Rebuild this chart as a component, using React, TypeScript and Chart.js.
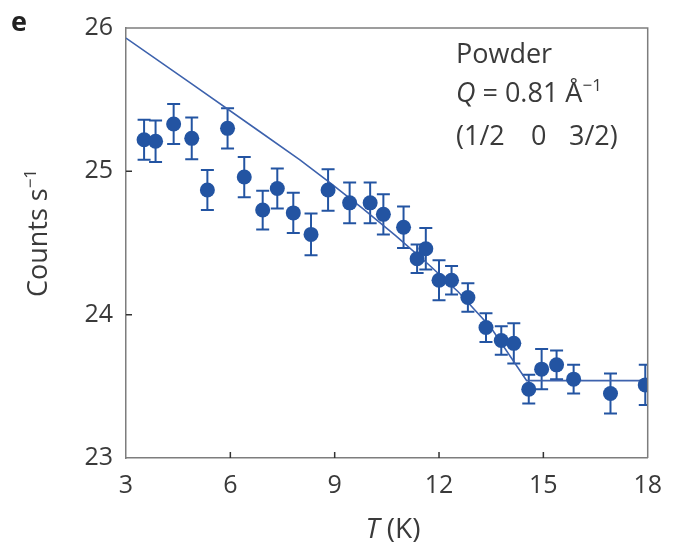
import { useEffect, useRef } from "react";
import { Chart, registerables } from "chart.js";

Chart.register(...registerables);

// Measured data (temperature in K, counts per second)
const TEMPERATURES = [3.52, 3.85, 4.37, 4.89, 5.34, 5.92, 6.4, 6.93, 7.35, 7.81, 8.32, 8.81, 9.43, 10.02, 10.4, 10.98, 11.37, 11.62, 12.0, 12.36, 12.83, 13.35, 13.79, 14.15, 14.58, 14.95, 15.38, 15.87, 16.93, 17.93];
const COUNTS = [25.22, 25.21, 25.33, 25.23, 24.87, 25.3, 24.96, 24.73, 24.88, 24.71, 24.56, 24.87, 24.78, 24.78, 24.7, 24.61, 24.39, 24.46, 24.24, 24.24, 24.12, 23.91, 23.82, 23.8, 23.48, 23.62, 23.65, 23.55, 23.45, 23.51];
const ERRORS = [0.14, 0.145, 0.14, 0.145, 0.14, 0.14, 0.14, 0.135, 0.14, 0.14, 0.145, 0.145, 0.142, 0.142, 0.14, 0.145, 0.1, 0.145, 0.14, 0.1, 0.1, 0.1, 0.1, 0.14, 0.1, 0.14, 0.1, 0.1, 0.14, 0.14];

// Fitted curve
const FIT_T = [3, 4.89, 6.77, 8.0, 8.87, 9.81, 10.76, 11.7, 12.55, 13.49, 14.52, 18];
const FIT_COUNTS = [25.93, 25.61, 25.29, 25.08, 24.92, 24.74, 24.55, 24.35, 24.16, 23.91, 23.54, 23.54];

const X_TICKS = [3, 6, 9, 12, 15, 18];
const Y_TICKS = [23, 24, 25, 26];

const PANEL_LABEL = "e";
const LEGEND_LINE1 = "Powder";
const LEGEND_HKL = ["(1/2", "0", "3/2)"];
const X_TITLE_ITALIC = "T";
const X_TITLE_REST = " (K)";
const Y_TITLE = "Counts s";
const Y_TITLE_SUP = "−1";

const FONT = "'Open Sans', 'Noto Sans', sans-serif";
const TEXT_COLOR = "#3a3a3a";
const DOT_COLOR = "#2354a2";
const LINE_COLOR = "#3d62ad";
const AXIS_COLOR = "#7d7d7d";

type Seg = { text: string; font: string; dy?: number };

function drawSegs(ctx: CanvasRenderingContext2D, segs: Seg[], x: number, y: number, align: "left" | "center" = "left") {
  let total = 0;
  for (const s of segs) {
    ctx.font = s.font;
    total += ctx.measureText(s.text).width;
  }
  let cx = align === "center" ? x - total / 2 : x;
  ctx.textAlign = "left";
  ctx.textBaseline = "alphabetic";
  for (const s of segs) {
    ctx.font = s.font;
    ctx.fillText(s.text, cx, y + (s.dy || 0));
    cx += ctx.measureText(s.text).width;
  }
}

const overlay = {
  id: "overlay",
  beforeDatasetsDraw(chart: any) {
    const { ctx, chartArea: a } = chart;
    const xs = chart.scales.x;
    const ys = chart.scales.y;
    ctx.save();
    ctx.beginPath();
    ctx.rect(a.left, a.top, a.right - a.left, a.bottom - a.top);
    ctx.clip();
    ctx.strokeStyle = DOT_COLOR;
    ctx.lineWidth = 2;
    const cap = 6.5;
    for (let i = 0; i < TEMPERATURES.length; i++) {
      const x = xs.getPixelForValue(TEMPERATURES[i]);
      const y1 = ys.getPixelForValue(COUNTS[i] + ERRORS[i]);
      const y2 = ys.getPixelForValue(COUNTS[i] - ERRORS[i]);
      ctx.beginPath();
      ctx.moveTo(x, y1);
      ctx.lineTo(x, y2);
      ctx.moveTo(x - cap, y1);
      ctx.lineTo(x + cap, y1);
      ctx.moveTo(x - cap, y2);
      ctx.lineTo(x + cap, y2);
      ctx.stroke();
    }
    ctx.restore();
  },
  afterDraw(chart: any) {
    const { ctx, chartArea: a } = chart;
    const xs = chart.scales.x;
    const ys = chart.scales.y;
    ctx.save();
    // frame top and right
    ctx.strokeStyle = AXIS_COLOR;
    ctx.lineWidth = 1.5;
    ctx.beginPath();
    ctx.moveTo(a.left, a.top);
    ctx.lineTo(a.right, a.top);
    ctx.lineTo(a.right, a.bottom);
    ctx.stroke();
    // inward ticks
    ctx.strokeStyle = "#333";
    ctx.lineWidth = 1.5;
    ctx.beginPath();
    for (const v of Y_TICKS.slice(1, -1)) {
      const y = ys.getPixelForValue(v);
      ctx.moveTo(a.left, y);
      ctx.lineTo(a.left + 6, y);
    }
    for (const v of X_TICKS.slice(1, -1)) {
      const x = xs.getPixelForValue(v);
      ctx.moveTo(x, a.bottom);
      ctx.lineTo(x, a.bottom - 6);
    }
    ctx.stroke();

    // panel label
    ctx.fillStyle = "#222";
    drawSegs(ctx, [{ text: PANEL_LABEL, font: `bold 27px ${FONT}` }], 11, 31);
    ctx.fillStyle = TEXT_COLOR;

    // legend text
    const lx = 456;
    drawSegs(ctx, [{ text: LEGEND_LINE1, font: `27px ${FONT}` }], lx, 63);
    drawSegs(
      ctx,
      [
        { text: "Q", font: `italic 27px ${FONT}` },
        { text: " = 0.81 Å", font: `27px ${FONT}` },
        { text: "−1", font: `17px ${FONT}`, dy: -11 },
      ],
      lx,
      102
    );
    drawSegs(ctx, [{ text: LEGEND_HKL[0], font: `27px ${FONT}` }], lx, 145);
    drawSegs(ctx, [{ text: LEGEND_HKL[1], font: `27px ${FONT}` }], 531, 145);
    drawSegs(ctx, [{ text: LEGEND_HKL[2], font: `27px ${FONT}` }], 569, 145);

    // x title
    drawSegs(
      ctx,
      [
        { text: X_TITLE_ITALIC, font: `italic 28px ${FONT}` },
        { text: X_TITLE_REST, font: `28px ${FONT}` },
      ],
      393,
      538,
      "center"
    );

    // y title (rotated)
    ctx.save();
    ctx.translate(47, 233);
    ctx.rotate(-Math.PI / 2);
    drawSegs(
      ctx,
      [
        { text: Y_TITLE, font: `27px ${FONT}` },
        { text: Y_TITLE_SUP, font: `17px ${FONT}`, dy: -11 },
      ],
      0,
      0,
      "center"
    );
    ctx.restore();
    ctx.restore();
  },
};

export default function App() {
  const ref = useRef<HTMLCanvasElement | null>(null);
  useEffect(() => {
    if (!ref.current) return;
    const chart = new Chart(ref.current, {
      type: "scatter",
      data: {
        datasets: [
          {
            label: "fit",
            data: FIT_T.map((t, i) => ({ x: t, y: FIT_COUNTS[i] })),
            showLine: true,
            borderColor: LINE_COLOR,
            borderWidth: 1.6,
            pointRadius: 0,
            tension: 0,
            clip: 0,
            order: 2,
          } as any,
          {
            label: "data",
            data: TEMPERATURES.map((t, i) => ({ x: t, y: COUNTS[i] })),
            showLine: false,
            backgroundColor: DOT_COLOR,
            borderColor: DOT_COLOR,
            borderWidth: 0,
            pointRadius: 7.5,
            pointHoverRadius: 7.5,
            clip: 0,
            order: 1,
          } as any,
        ],
      },
      options: {
        animation: false,
        responsive: false,
        events: [],
        layout: { padding: { top: 26, right: 19, left: 0, bottom: 0 } },
        plugins: {
          legend: { display: false },
          tooltip: { enabled: false },
        },
        scales: {
          x: {
            type: "linear",
            min: 3,
            max: 18,
            afterFit: (s: any) => {
              s.height = 89;
            },
            afterBuildTicks: (s: any) => {
              s.ticks = X_TICKS.map((v) => ({ value: v }));
            },
            grid: { display: false, drawTicks: false },
            border: { display: true, color: AXIS_COLOR, width: 1.5 },
            ticks: {
              color: TEXT_COLOR,
              font: { family: FONT, size: 25 },
              padding: 13,
              maxRotation: 0,
            },
          },
          y: {
            type: "linear",
            min: 23,
            max: 26,
            afterFit: (s: any) => {
              s.width = 126;
            },
            afterBuildTicks: (s: any) => {
              s.ticks = Y_TICKS.map((v) => ({ value: v }));
            },
            grid: { display: false, drawTicks: false },
            border: { display: true, color: AXIS_COLOR, width: 1.5 },
            ticks: {
              color: TEXT_COLOR,
              font: { family: FONT, size: 25 },
              padding: 13,
            },
          },
        },
      },
      plugins: [overlay],
    });
    return () => chart.destroy();
  }, []);
  return (
    <div style={{ position: "fixed", left: 0, top: 0, width: 675, height: 547, background: "#fff" }}>
      <canvas ref={ref} width={675} height={547} />
    </div>
  );
}
